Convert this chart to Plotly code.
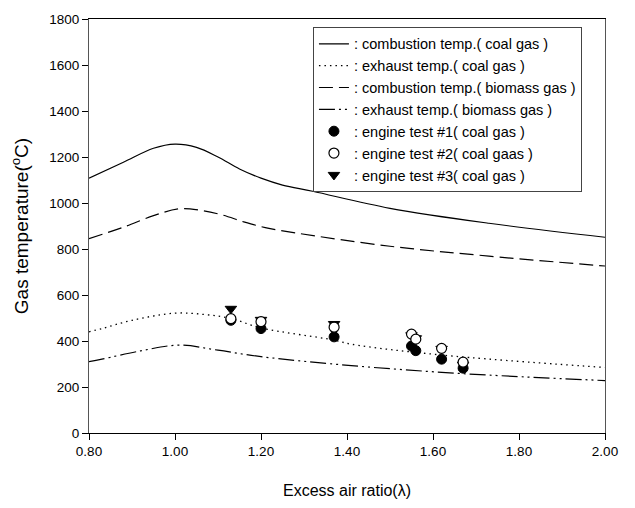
import plotly.graph_objects as go

# Model curves (excess air ratio vs gas temperature)
lam_comb_coal = [0.80, 0.88, 0.95, 1.00, 1.05, 1.10, 1.15, 1.20, 1.25, 1.32, 1.50, 1.73, 2.00]
t_comb_coal = [1108, 1177, 1238, 1256, 1242, 1200, 1148, 1108, 1078, 1051, 977, 912, 851]

lam_comb_bio = [0.80, 0.88, 0.95, 1.01, 1.06, 1.11, 1.16, 1.21, 1.28, 1.50, 1.73, 2.00]
t_comb_bio = [845, 895, 945, 975, 968, 948, 918, 893, 870, 812, 769, 726]

lam_exh_coal = [0.80, 0.83, 0.90, 1.00, 1.07, 1.13, 1.20, 1.37, 1.41, 1.62, 2.00]
t_exh_coal = [440, 454, 490, 521, 515, 498, 457, 404, 386, 339, 285]

lam_exh_bio = [0.80, 0.83, 0.92, 1.01, 1.10, 1.20, 1.41, 1.67, 2.00]
t_exh_bio = [310, 321, 357, 382, 360, 332, 293, 258, 228]

# Engine tests (coal gas)
lam_test = [1.13, 1.20, 1.37, 1.55, 1.56, 1.62, 1.67]
t_test1 = [490, 454, 418, 378, 358, 321, 282]
t_test2 = [497, 484, 460, 430, 408, 368, 308]
t_test3 = [540, 492, 474, 425, 412, 366, 297]

x_ticks = [0.8, 1.0, 1.2, 1.4, 1.6, 1.8, 2.0]
y_ticks = [0, 200, 400, 600, 800, 1000, 1200, 1400, 1600, 1800]

names = [
    ": combustion temp.( coal gas )",
    ": exhaust temp.( coal gas )",
    ": combustion temp.( biomass gas )",
    ": exhaust temp.( biomass gas )",
    ": engine test #1( coal gas )",
    ": engine test #2( coal gaas )",
    ": engine test #3( coal gas )",
]

fig = go.Figure()
fig.add_trace(go.Scatter(x=lam_comb_coal, y=t_comb_coal, mode="lines", name=names[0],
                         line=dict(color="black", width=1.2, shape="spline"), legendrank=1))
fig.add_trace(go.Scatter(x=lam_exh_coal, y=t_exh_coal, mode="lines", name=names[1],
                         line=dict(color="black", width=1.3, dash="1.5px,4px", shape="spline"), legendrank=2))
fig.add_trace(go.Scatter(x=lam_comb_bio, y=t_comb_bio, mode="lines", name=names[2],
                         line=dict(color="black", width=1.2, dash="14px,6px", shape="spline"), legendrank=3))
fig.add_trace(go.Scatter(x=lam_exh_bio, y=t_exh_bio, mode="lines", name=names[3],
                         line=dict(color="black", width=1.2, dash="16px,4px,2px,4px,2px,4px", shape="spline"), legendrank=4))
fig.add_trace(go.Scatter(x=lam_test, y=t_test1, mode="markers", name=names[4],
                         marker=dict(symbol="circle", size=10, color="black", line=dict(color="black", width=1)),
                         legendrank=5))
fig.add_trace(go.Scatter(x=lam_test, y=t_test3, mode="markers", name=names[6],
                         marker=dict(symbol="triangle-down", size=10, color="black", line=dict(color="black", width=1)),
                         legendrank=7))
fig.add_trace(go.Scatter(x=lam_test, y=t_test2, mode="markers", name=names[5],
                         marker=dict(symbol="circle", size=10, color="white", line=dict(color="black", width=1.2)),
                         legendrank=6))

fig.update_layout(
    width=635, height=508,
    margin=dict(l=89, r=30, t=15, b=74),
    paper_bgcolor="white", plot_bgcolor="white",
    font=dict(family="Liberation Sans, Arial, sans-serif", color="black", size=12),
    showlegend=True,
    legend=dict(x=0.434, y=0.981, xanchor="left", yanchor="top",
                bgcolor="white", bordercolor="#444", borderwidth=1,
                font=dict(size=14.5), tracegroupgap=0, itemwidth=30,
                traceorder="normal"),
)
fig.update_xaxes(range=[0.8, 2.0], tickvals=x_ticks, ticktext=[f"{v:.2f}" for v in x_ticks],
                 showgrid=False, zeroline=False, showline=True, linecolor="black", linewidth=1,
                 mirror=True, ticks="outside", ticklen=6, tickcolor="black",
                 tickfont=dict(size=13.5),
                 title=dict(text="Excess air ratio(λ)", font=dict(size=16), standoff=26))
fig.update_yaxes(range=[0, 1800], tickvals=y_ticks,
                 showgrid=False, zeroline=False, showline=True, linecolor="#555", linewidth=1,
                 mirror=True, ticks="outside", ticklen=6, tickcolor="black",
                 tickfont=dict(size=13.5),
                 title=dict(text="Gas temperature(<sup>o</sup>C)", font=dict(size=19), standoff=15))

fig.write_html("out.html")
